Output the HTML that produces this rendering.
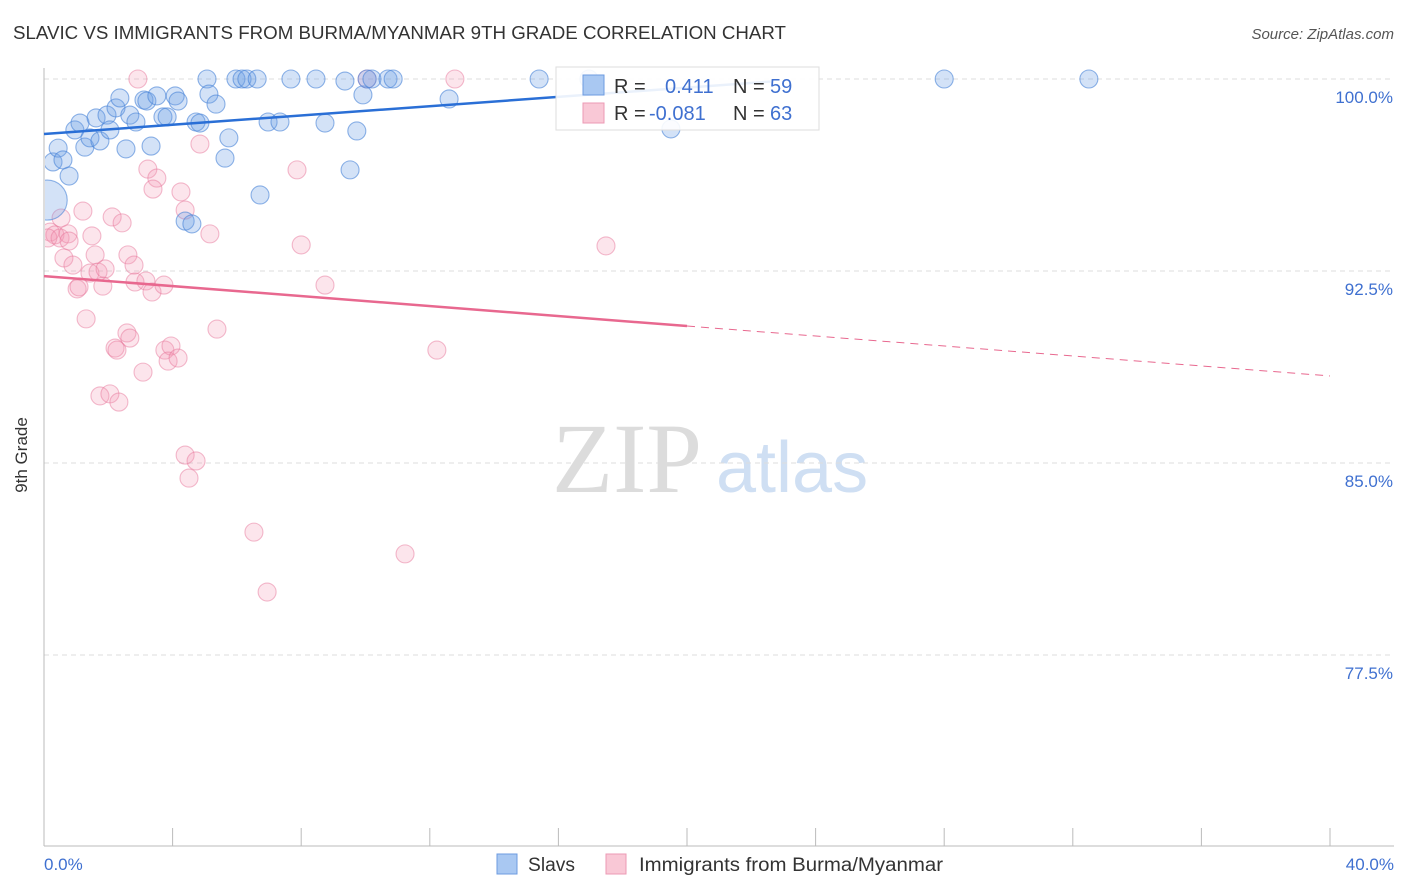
<!DOCTYPE html>
<html><head><meta charset="utf-8">
<style>
body{margin:0;background:#fff;font-family:"Liberation Sans",sans-serif;}
svg{display:block}
</style></head>
<body>
<svg id="chart" width="1406" height="892" xmlns="http://www.w3.org/2000/svg">
<defs><clipPath id="plotclip"><rect x="45" y="60" width="1360" height="786"/></clipPath></defs>
<text x="13" y="39" font-size="18" fill="#333" textLength="773" lengthAdjust="spacingAndGlyphs">SLAVIC VS IMMIGRANTS FROM BURMA/MYANMAR 9TH GRADE CORRELATION CHART</text>
<text x="1394" y="39" font-size="15" fill="#555" font-style="italic" text-anchor="end">Source: ZipAtlas.com</text>
<g>
<text x="552" y="492" font-family="Liberation Serif,serif" font-size="100" fill="#dcdcdc">ZIP</text>
<text x="716" y="492" font-size="72" fill="#cfdff3">atlas</text>
</g>
<g id="grid"></g>
<line x1="44" y1="68" x2="44" y2="846" stroke="#bbb"/>
<line x1="44" y1="846" x2="1394" y2="846" stroke="#bbb"/>
<g id="xticks"></g>
<text x="27" y="455" font-size="17" fill="#333" text-anchor="middle" transform="rotate(-90 27 455)">9th Grade</text>
<text x="44" y="870" font-size="17" fill="#3f70d0">0.0%</text>
<text x="1394" y="870" font-size="17" fill="#3f70d0" text-anchor="end">40.0%</text>
<g id="pts" clip-path="url(#plotclip)"></g>
<g id="lines"></g>
<g>
<rect x="556" y="67" width="263" height="63" fill="#fff" fill-opacity="0.9" stroke="#ddd"/>
<rect x="583" y="75" width="21" height="20" fill="#a9c8f2" stroke="#6d9be0"/>
<rect x="583" y="103" width="21" height="20" fill="#f9c8d6" stroke="#ec9ab4"/>
<text x="614" y="93" font-size="20" fill="#333">R = </text>
<text x="665" y="93" font-size="20" fill="#3f70d0">0.411</text>
<text x="733" y="93" font-size="20" fill="#333">N = </text>
<text x="770" y="93" font-size="20" fill="#3f70d0">59</text>
<text x="614" y="120" font-size="20" fill="#333">R = </text>
<text x="649" y="120" font-size="20" fill="#3f70d0">-0.081</text>
<text x="733" y="120" font-size="20" fill="#333">N = </text>
<text x="770" y="120" font-size="20" fill="#3f70d0">63</text>
</g>
<g>
<rect x="497" y="854" width="20" height="20" fill="#a9c8f2" stroke="#6d9be0"/>
<text x="528" y="871" font-size="19" fill="#333" textLength="47" lengthAdjust="spacingAndGlyphs">Slavs</text>
<rect x="606" y="854" width="20" height="20" fill="#f9c8d6" stroke="#ec9ab4"/>
<text x="639" y="871" font-size="19" fill="#333" textLength="304" lengthAdjust="spacingAndGlyphs">Immigrants from Burma/Myanmar</text>
</g>
</svg>
<script>
const yTicks=[100,92.5,85,77.5];
const yTickLabels=["100.0%","92.5%","85.0%","77.5%"];
const xTickVals=[0,4,8,12,16,20,24,28,32,36,40];
const slavX=[0.1,0.28,0.44,0.59,0.78,0.96,1.12,1.27,1.43,1.74,1.62,1.96,2.05,2.24,2.36,2.55,2.67,2.86,3.11,3.2,3.33,3.51,3.7,3.83,4.08,4.17,4.39,4.6,4.73,4.85,5.07,5.13,5.35,5.63,5.75,5.97,6.16,6.31,6.63,6.72,6.97,7.34,7.68,8.46,8.74,9.36,9.52,9.73,9.92,10.05,10.2,10.7,10.86,12.6,15.4,16.95,19.5,28.0,32.5];
const slavY=[95.27,96.76,97.3,96.84,96.21,98.01,98.28,97.34,97.7,97.58,98.48,98.59,98.01,98.87,99.26,97.27,98.59,98.32,99.18,99.14,97.38,99.34,98.52,98.52,99.34,99.14,94.45,94.34,98.32,98.28,100,99.41,99.02,96.91,97.7,100,100,100,100,95.47,98.32,98.32,100,100,98.28,99.92,96.45,97.97,99.38,100,100,100,100,99.22,100,100,98.05,100,100];
const burX=[2.92,10.05,12.78,4.85,7.87,3.23,3.51,3.39,4.26,4.39,1.21,0.53,2.12,2.43,0.19,0.34,0.12,0.5,0.75,0.78,1.49,5.16,8.0,17.48,0.62,0.9,1.59,2.61,2.8,1.43,1.68,1.9,1.03,1.09,1.83,2.83,3.17,3.36,3.73,8.74,1.31,2.58,2.67,5.38,2.21,2.27,3.76,3.95,3.86,4.17,3.08,12.22,1.74,2.05,2.33,4.39,4.73,4.51,6.53,11.23,6.94];
const burY=[100,100,100,97.46,96.45,96.48,96.13,95.7,95.59,94.88,94.84,94.57,94.61,94.38,94.02,93.91,93.79,93.79,93.95,93.67,93.87,93.95,93.52,93.48,93.01,92.73,93.13,93.13,92.73,92.42,92.46,92.58,91.8,91.88,91.91,92.07,92.11,91.68,91.95,91.95,90.63,90.08,89.88,90.23,89.49,89.41,89.41,89.57,88.98,89.1,88.55,89.41,87.62,87.7,87.38,85.31,85.08,84.41,82.3,81.45,79.96];
const slavTrend=[[0,97.85],[22.6,99.9]];
const burTrendSolid=[[0,92.3],[20,90.35]];
const burTrendDash=[[20,90.35],[40,88.4]];
const NS="http://www.w3.org/2000/svg";
const sx=v=>44+v/40*1286;
const sy=v=>79+(100-v)*25.6;
function mk(tag,attrs,parent){const e=document.createElementNS(NS,tag);for(const k in attrs)e.setAttribute(k,attrs[k]);parent.appendChild(e);return e;}
const grid=document.getElementById('grid');
yTicks.forEach((t,i)=>{
  const l=mk('line',{x1:44,x2:1394,y1:sy(t),y2:sy(t),stroke:'#ddd','stroke-dasharray':'5,4'},grid);
  
  
  const tx=mk('text',{x:1393,y:sy(t)+24,'font-size':17,fill:'#3f70d0','text-anchor':'end'},grid);
  tx.textContent=yTickLabels[i];
  
  
});
const xt=document.getElementById('xticks');
xTickVals.forEach(v=>{
  const l=mk('line',{x1:sx(v),x2:sx(v),y1:828,y2:846,stroke:'#bbb'},xt);
  
  
});
const pts=document.getElementById('pts');
burX.forEach((x,i)=>{
  const c=mk('circle',{cx:sx(x),cy:sy(burY[i]),r:9,fill:'rgba(242,150,180,0.25)',stroke:'rgba(232,120,155,0.5)','stroke-width':1.1},pts);
  
  
});
slavX.forEach((x,i)=>{
  const c=mk('circle',{cx:sx(x),cy:sy(slavY[i]),r:i===0?20:9,fill:'rgba(110,160,230,0.3)',stroke:'rgba(70,130,215,0.6)','stroke-width':1.1},pts);
  
  
});
const lg=document.getElementById('lines');
function ln(p,attrs,name){const l=mk('line',Object.assign({x1:sx(p[0][0]),y1:sy(p[0][1]),x2:sx(p[1][0]),y2:sy(p[1][1])},attrs),lg);
  
  }
ln(slavTrend,{stroke:'#2a6fd6','stroke-width':2.5},'slavs-trendline');
ln(burTrendSolid,{stroke:'#e8688f','stroke-width':2.5},'burma-trendline');
ln(burTrendDash,{stroke:'#e8688f','stroke-width':1,'stroke-dasharray':'8,6'},'burma-trendline-extension');
</script>
</body></html>
